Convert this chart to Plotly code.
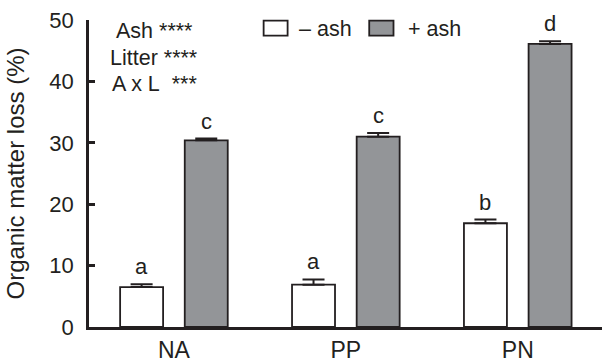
import plotly.graph_objects as go

categories = ["NA", "PP", "PN"]
minus_ash = [6.5, 6.9, 16.9]
minus_ash_err = [0.45, 0.85, 0.6]
plus_ash = [30.4, 31.0, 46.1]
plus_ash_err = [0.3, 0.6, 0.45]
minus_letters = ["a", "a", "b"]
plus_letters = ["c", "c", "d"]
y_ticks = [0, 10, 20, 30, 40, 50]
stats_lines = ["Ash ****", "Litter ****", "A x L\u00a0\u00a0***"]

FONT = "Liberation Sans, Arial, sans-serif"
INK = "#231f20"
GRAY = "#939598"
BAR_W = 0.25
HALF = 0.188

L, R, T, B = 88.5, 0, 20, 34.5
W, H = 602, 362
PW = W - L - R
PH = H - T - B

fig = go.Figure()
fig.add_trace(go.Bar(
    x=categories, y=minus_ash, width=BAR_W, offset=-HALF - BAR_W / 2,
    marker=dict(color="white", line=dict(color=INK, width=1.8)),
    error_y=dict(type="data", symmetric=False, array=minus_ash_err,
                 arrayminus=[0] * 3, color=INK, thickness=2, width=11),
    name="\u2013 ash", showlegend=False))
fig.add_trace(go.Bar(
    x=categories, y=plus_ash, width=BAR_W, offset=HALF - BAR_W / 2,
    marker=dict(color=GRAY, line=dict(color=INK, width=1.8)),
    error_y=dict(type="data", symmetric=False, array=plus_ash_err,
                 arrayminus=[0] * 3, color=INK, thickness=2, width=11),
    name="+ ash", showlegend=False))

ann = []
px_per_cat = PW / (2.49 + 0.494)
for i, c in enumerate(categories):
    ann.append(dict(x=c, y=minus_ash[i] + minus_ash_err[i], text=minus_letters[i],
                    xshift=-HALF * px_per_cat, yshift=3, yanchor="bottom",
                    showarrow=False, font=dict(size=22, color=INK, family=FONT)))
    ann.append(dict(x=c, y=plus_ash[i] + plus_ash_err[i], text=plus_letters[i],
                    xshift=HALF * px_per_cat, yshift=3, yanchor="bottom",
                    showarrow=False, font=dict(size=22, color=INK, family=FONT)))

def px_x(p):
    return (p - L) / PW

def px_y(p):
    return (H - B - p) / PH

for k, line in enumerate(stats_lines):
    ann.append(dict(xref="paper", yref="paper", x=px_x(153.7), y=px_y(31.5 + 26.3 * k),
                    text=line, align="center", showarrow=False,
                    xanchor="center", yanchor="middle",
                    font=dict(size=21.5, color=INK, family=FONT)))
ann.append(dict(xref="paper", yref="paper", x=px_x(297), y=px_y(29),
                text="\u2013 ash", showarrow=False, xanchor="left", yanchor="middle",
                font=dict(size=21.5, color=INK, family=FONT)))
ann.append(dict(xref="paper", yref="paper", x=px_x(405.5), y=px_y(29),
                text="+ ash", showarrow=False, xanchor="left", yanchor="middle",
                font=dict(size=21.5, color=INK, family=FONT)))

shapes = [
    dict(type="rect", xref="paper", yref="paper", x0=px_x(263.3), x1=px_x(287.3),
         y0=px_y(35.7), y1=px_y(20.7), fillcolor="white", line=dict(color=INK, width=1.8)),
    dict(type="rect", xref="paper", yref="paper", x0=px_x(369), x1=px_x(393.3),
         y0=px_y(35.7), y1=px_y(20.7), fillcolor=GRAY, line=dict(color=INK, width=1.8)),
]

fig.update_layout(
    width=W, height=H, margin=dict(l=L, r=R, t=T, b=B, pad=0),
    plot_bgcolor="white", paper_bgcolor="white",
    font=dict(family=FONT, color=INK),
    annotations=ann, shapes=shapes, barmode="overlay",
    xaxis=dict(range=[-0.494, 2.49], showline=True, linecolor=INK, linewidth=2.5,
               ticks="", showgrid=False, zeroline=False, tickfont=dict(size=23, color=INK),
               ticklabelstandoff=1, automargin=False),
    yaxis=dict(range=[0, 50], tickvals=y_ticks, showline=True, linecolor=INK, linewidth=2.5,
               ticks="inside", ticklen=6, tickwidth=2.5, tickcolor=INK,
               showgrid=False, zeroline=False, tickfont=dict(size=22, color=INK),
               ticklabelstandoff=8, automargin=False,
               title=dict(text="Organic matter loss (%)", font=dict(size=24, color=INK),
                          standoff=18)),
)

fig.write_html("out.html")
